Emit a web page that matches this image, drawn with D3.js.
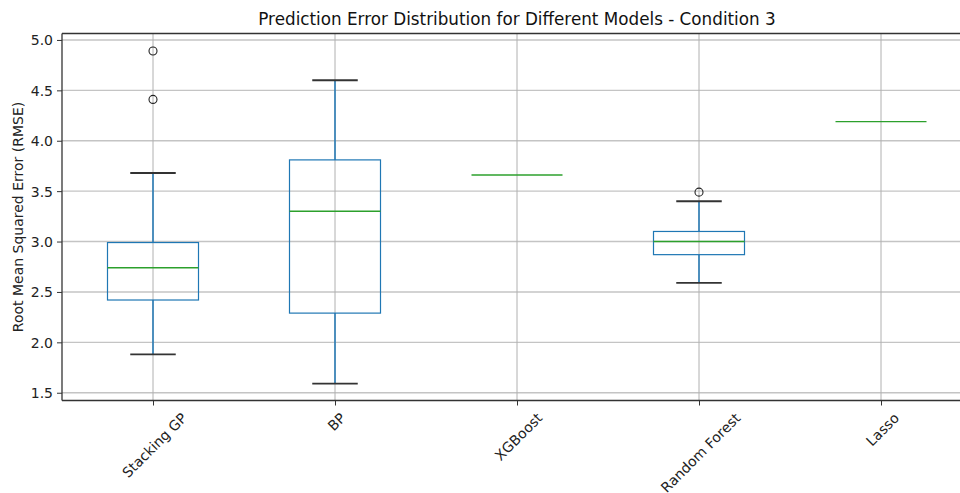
<!DOCTYPE html>
<html>
<head>
<meta charset="utf-8">
<script src="https://cdn.jsdelivr.net/npm/d3@7"></script>
<style>
  body { margin: 0; background: #fff; }
  svg { font-family: "DejaVu Sans", sans-serif; display: block; }
</style>
</head>
<body>
<div id="chart"></div>
<script>
var models = ["Stacking GP", "BP", "XGBoost", "Random Forest", "Lasso"];
var whiskerLow = [1.88, 1.59, 3.66, 2.59, 4.19];
var q1 = [2.42, 2.29, 3.66, 2.87, 4.19];
var medians = [2.74, 3.30, 3.66, 3.00, 4.19];
var q3 = [2.99, 3.81, 3.66, 3.10, 4.19];
var whiskerHigh = [3.68, 4.60, 3.66, 3.40, 4.19];
var outliers = [[4.41, 4.89], [], [], [3.49], []];
var yTicks = [1.5, 2.0, 2.5, 3.0, 3.5, 4.0, 4.5, 5.0];

var width = 960,
    height = 493,
    plotL = 62,
    plotR = 972,
    plotT = 33.5,
    plotB = 400.5;

var boxes = models.map(function (m, i) {
    return {
        name: m, pos: i + 1,
        lo: whiskerLow[i], q1: q1[i], med: medians[i], q3: q3[i], hi: whiskerHigh[i],
        fliers: outliers[i]
    };
});

var x = d3.scaleLinear().domain([0.5, 5.5]).range([plotL, plotR]);
var y = d3.scaleLinear().domain([1.423, 5.064]).range([plotB, plotT]);

var svg = d3.select("#chart")
    .append("svg")
    .attr("width", width)
    .attr("height", height);

// grid
svg.append("g")
    .selectAll("line")
    .data(yTicks)
    .enter().append("line")
    .attr("x1", plotL).attr("x2", plotR)
    .attr("y1", function (d) { return y(d); })
    .attr("y2", function (d) { return y(d); })
    .attr("stroke", "#c4c4c4")
    .attr("stroke-width", 1.4);

svg.append("g")
    .selectAll("line")
    .data(boxes)
    .enter().append("line")
    .attr("x1", function (d) { return x(d.pos); })
    .attr("x2", function (d) { return x(d.pos); })
    .attr("y1", plotT).attr("y2", plotB)
    .attr("stroke", "#b0b0b0")
    .attr("stroke-width", 1);

// boxes
var g = svg.append("g")
    .selectAll("g")
    .data(boxes)
    .enter().append("g");

var boxW = x(1.25) - x(1),
    capW = x(1.125) - x(1);

var spread = g.filter(function (d) { return d.hi > d.lo; });

spread.append("line")
    .attr("x1", function (d) { return x(d.pos); })
    .attr("x2", function (d) { return x(d.pos); })
    .attr("y1", function (d) { return y(d.lo); })
    .attr("y2", function (d) { return y(d.q1); })
    .attr("stroke", "#1f77b4").attr("stroke-width", 1.5);

spread.append("line")
    .attr("x1", function (d) { return x(d.pos); })
    .attr("x2", function (d) { return x(d.pos); })
    .attr("y1", function (d) { return y(d.q3); })
    .attr("y2", function (d) { return y(d.hi); })
    .attr("stroke", "#1f77b4").attr("stroke-width", 1.5);

["lo", "hi"].forEach(function (k) {
    spread.append("line")
        .attr("x1", function (d) { return x(d.pos) - capW; })
        .attr("x2", function (d) { return x(d.pos) + capW; })
        .attr("y1", function (d) { return y(d[k]); })
        .attr("y2", function (d) { return y(d[k]); })
        .attr("stroke", "#333").attr("stroke-width", 1.8);
});

spread.append("rect")
    .attr("x", function (d) { return x(d.pos) - boxW; })
    .attr("width", boxW * 2)
    .attr("y", function (d) { return y(d.q3); })
    .attr("height", function (d) { return y(d.q1) - y(d.q3); })
    .attr("fill", "none")
    .attr("stroke", "#1f77b4").attr("stroke-width", 1.2);

g.append("line")
    .attr("x1", function (d) { return x(d.pos) - boxW; })
    .attr("x2", function (d) { return x(d.pos) + boxW; })
    .attr("y1", function (d) { return y(d.med); })
    .attr("y2", function (d) { return y(d.med); })
    .attr("stroke", "#2ca02c").attr("stroke-width", 1.4);

g.selectAll("circle")
    .data(function (d) { return d.fliers.map(function (v) { return { pos: d.pos, v: v }; }); })
    .enter().append("circle")
    .attr("cx", function (d) { return x(d.pos); })
    .attr("cy", function (d) { return y(d.v); })
    .attr("r", 4)
    .attr("fill", "none")
    .attr("stroke", "#222").attr("stroke-width", 1.1);

// axes
var yAxis = svg.append("g")
    .attr("transform", "translate(" + plotL + ",0)")
    .call(d3.axisLeft(y).tickValues(yTicks).tickFormat(d3.format(".1f")).tickSize(5).tickPadding(4));

var xAxis = svg.append("g")
    .attr("transform", "translate(0," + plotB + ")")
    .call(d3.axisBottom(x).tickValues(boxes.map(function (d) { return d.pos; }))
        .tickFormat(function (d, i) { return models[i]; }).tickSize(5).tickPadding(4));

[yAxis, xAxis].forEach(function (a) {
    a.attr("font-family", null).attr("font-size", null);
    a.select(".domain").remove();
    a.selectAll(".tick line").attr("stroke", "#333").attr("stroke-width", 1);
    a.selectAll(".tick text").attr("fill", "#222").style("font-size", "14px");
});

yAxis.selectAll(".tick text").attr("dy", "0.35em");

xAxis.selectAll(".tick text")
    .attr("text-anchor", "end")
    .attr("dy", null)
    .attr("y", null)
    .attr("dominant-baseline", "central")
    .attr("transform", function () {
        var L = this.getComputedTextLength(), h = 14;
        var ax = L / (2 * Math.SQRT2) + 1, ay = 10 + h / (2 * Math.SQRT2);
        return "translate(" + ax + "," + ay + ") rotate(-45)";
    });

// spines
svg.append("line").attr("x1", plotL).attr("x2", plotL).attr("y1", plotT).attr("y2", plotB)
    .attr("stroke", "#333").attr("stroke-width", 1.3);
svg.append("line").attr("x1", plotL).attr("x2", plotR).attr("y1", plotB).attr("y2", plotB)
    .attr("stroke", "#333").attr("stroke-width", 1.3);
svg.append("line").attr("x1", plotL).attr("x2", plotR).attr("y1", plotT).attr("y2", plotT)
    .attr("stroke", "#333").attr("stroke-width", 1.3);

svg.append("text")
    .attr("x", (plotL + plotR) / 2)
    .attr("y", 25)
    .attr("text-anchor", "middle")
    .style("font-size", "16.8px")
    .attr("fill", "#111")
    .text("Prediction Error Distribution for Different Models - Condition 3");

svg.append("text")
    .attr("transform", "translate(23," + (plotT + plotB) / 2 + ") rotate(-90)")
    .attr("text-anchor", "middle")
    .style("font-size", "14px")
    .attr("fill", "#222")
    .text("Root Mean Squared Error (RMSE)");
</script>
</body>
</html>
